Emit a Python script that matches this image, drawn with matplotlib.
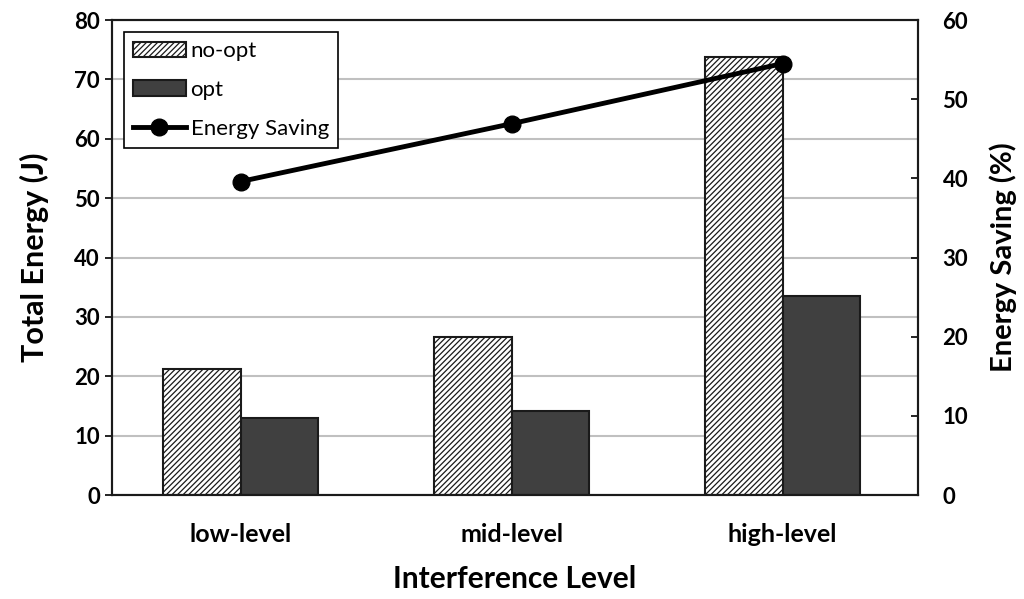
import matplotlib.pyplot as plt
import numpy as np

plt.rcParams['font.family'] = ['Lato', 'DejaVu Sans']
plt.rcParams['hatch.linewidth'] = 0.9
plt.rcParams['hatch.color'] = '#303030'

# data
levels = ["low-level", "mid-level", "high-level"]
no_opt = [21.3, 26.6, 73.8]
opt = [12.9, 14.1, 33.6]
saving = [39.6, 46.9, 54.5]

fig = plt.figure(figsize=(10.24, 5.99), dpi=100)
ax = fig.add_axes([0.109, 0.1736, 0.787, 0.793])
x = np.arange(len(levels))
w = 0.287

ax.grid(axis='y', color='#c0c0c0', linewidth=1.5, zorder=0)
b1 = ax.bar(x - w / 2, no_opt, w, facecolor='white', edgecolor='#1a1a1a',
            hatch='//////', linewidth=1.5, label='no-opt', zorder=2)
b2 = ax.bar(x + w / 2, opt, w, facecolor='#404040', edgecolor='#1a1a1a',
            linewidth=1.5, label='opt', zorder=2)

ax.set_xlim(-0.476, 2.498)
ax.set_ylim(0, 80)
ax.set_yticks(range(0, 81, 10))
ax.set_xticks(x)
ax.set_xticklabels(levels, fontsize=18, fontweight='bold')
ax.tick_params(axis='x', length=0, pad=20)
ax.tick_params(axis='y', labelsize=16, direction='out', length=5, width=1.2)
for lab in ax.get_yticklabels():
    lab.set_fontweight('bold')
ax.set_ylabel("Total Energy (J)", fontsize=22, fontweight='bold', labelpad=18)
ax.set_xlabel("Interference Level", fontsize=21.5, fontweight='bold', labelpad=14)
for s in ax.spines.values():
    s.set_linewidth(1.5)
    s.set_color('#1a1a1a')

ax2 = ax.twinx()
ln, = ax2.plot(x, saving, color='black', linewidth=3.5, marker='o',
               markersize=12, label='Energy Saving', zorder=3)
ax2.set_ylim(0, 60)
ax2.set_yticks(range(0, 61, 10))
ax2.tick_params(axis='y', labelsize=16, direction='in', length=5, width=1.2, pad=18)
for lab in ax2.get_yticklabels():
    lab.set_fontweight('bold')
ax2.set_ylabel("Energy Saving (%)", fontsize=21, fontweight='bold', labelpad=15)
for s in ax2.spines.values():
    s.set_linewidth(1.5)
    s.set_color('#1a1a1a')

leg = ax2.legend([b1, b2, ln], ['no-opt', 'opt', 'Energy Saving'],
                 loc='upper left', bbox_to_anchor=(0.0, 1.0), fontsize=16,
                 fancybox=False, edgecolor='black', framealpha=1,
                 handlelength=2.4, handletextpad=0.2, labelspacing=0.85,
                 borderpad=0.4, borderaxespad=0.55)
leg.get_frame().set_linewidth(1.2)

fig.savefig("out.png", dpi=100)
